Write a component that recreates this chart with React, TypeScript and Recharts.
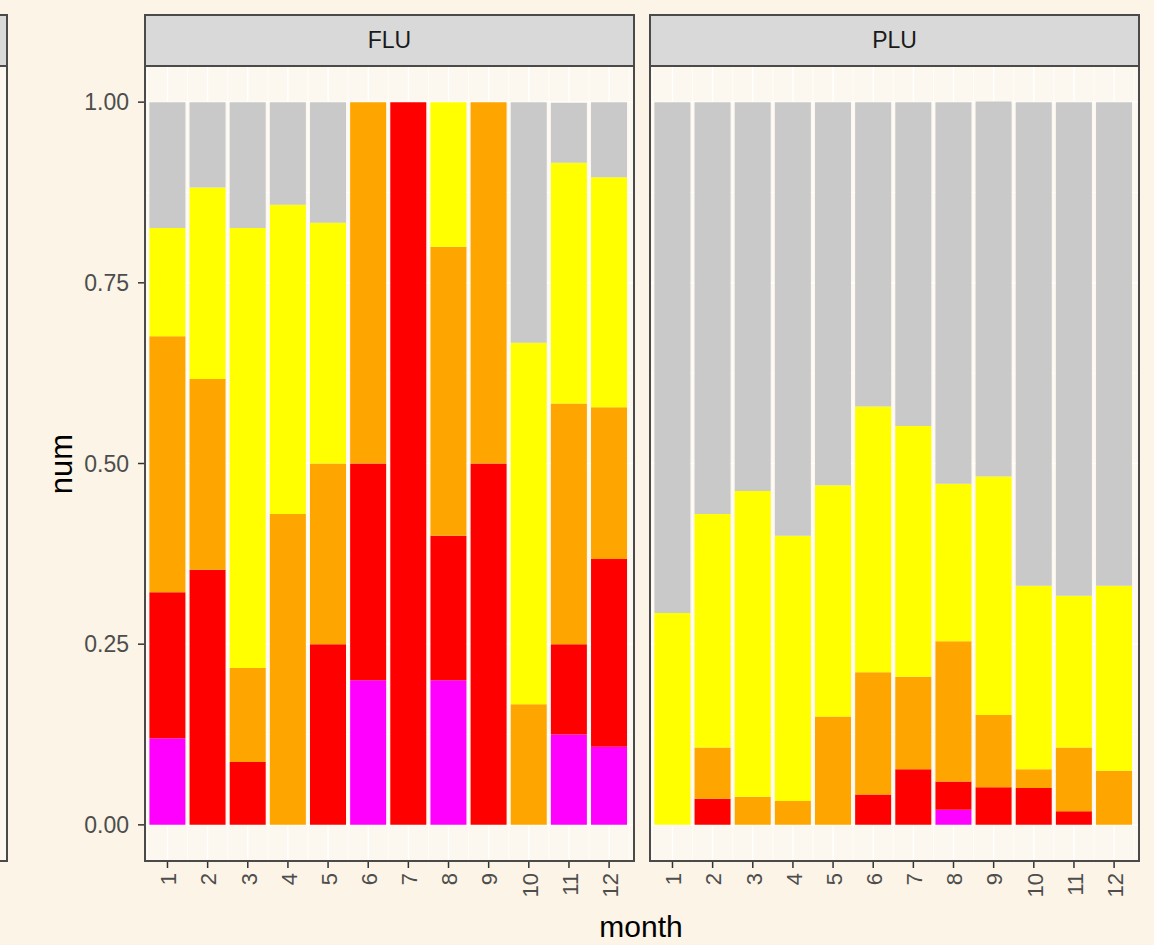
import { BarChart, Bar, XAxis, YAxis, CartesianGrid } from "recharts";

// month numbers on the x axis
const MONTHS = [1, 2, 3, 4, 5, 6, 7, 8, 9, 10, 11, 12];
const Y_TICKS = [0, 0.25, 0.5, 0.75, 1];
const Y_MINOR = [0.125, 0.375, 0.625, 0.875];
const X_MINOR = [0.5, 1.5, 2.5, 3.5, 4.5, 5.5, 6.5, 7.5, 8.5, 9.5, 10.5, 11.5, 12.5];

// FLU shares per month, stacked bottom to top
const FLU_MAGENTA = [0.12, 0, 0, 0, 0, 0.2, 0, 0.2, 0, 0, 0.125, 0.108];
const FLU_RED = [0.202, 0.353, 0.087, 0, 0.25, 0.3, 1, 0.2, 0.5, 0, 0.125, 0.26];
const FLU_ORANGE = [0.354, 0.264, 0.13, 0.43, 0.25, 0.5, 0, 0.4, 0.5, 0.167, 0.333, 0.21];
const FLU_YELLOW = [0.15, 0.265, 0.609, 0.428, 0.333, 0, 0, 0.2, 0, 0.5, 0.333, 0.318];
const FLU_GREY = [0.174, 0.118, 0.174, 0.142, 0.167, 0, 0, 0, 0, 0.333, 0.083, 0.104];

// PLU shares per month
const PLU_MAGENTA = [0, 0, 0, 0, 0, 0, 0, 0.021, 0, 0, 0, 0];
const PLU_RED = [0, 0.036, 0, 0, 0, 0.042, 0.077, 0.039, 0.052, 0.051, 0.019, 0];
const PLU_ORANGE = [0, 0.071, 0.039, 0.033, 0.15, 0.169, 0.128, 0.194, 0.1, 0.026, 0.088, 0.075];
const PLU_YELLOW = [0.293, 0.323, 0.423, 0.367, 0.32, 0.368, 0.347, 0.218, 0.33, 0.254, 0.21, 0.256];
const PLU_GREY = [0.707, 0.57, 0.538, 0.6, 0.53, 0.421, 0.448, 0.528, 0.519, 0.669, 0.683, 0.669];

const SERIES = [
    { key: "magenta", color: "#FF00FF" },
    { key: "red", color: "#FF0000" },
    { key: "orange", color: "#FFA500" },
    { key: "yellow", color: "#FFFF00" },
    { key: "grey", color: "#C9C9C9" },
];

const PAGE_BG = "#fcf4e6";
const PANEL_BG = "#fdf8ef";
const BORDER = "2px solid #4a4a4a";
const FONT = "'Liberation Sans', Arial, sans-serif";

const PANEL_TOP = 66;
const PANEL_H = 795;
const STRIP_TOP = 14;
const STRIP_H = 52;

function buildRows(m: number[], r: number[], o: number[], y: number[], g: number[]) {
    return MONTHS.map((month, i) => ({
        month,
        magenta: m[i],
        red: r[i],
        orange: o[i],
        yellow: y[i],
        grey: g[i],
    }));
}

const fluRows = buildRows(FLU_MAGENTA, FLU_RED, FLU_ORANGE, FLU_YELLOW, FLU_GREY);
const pluRows = buildRows(PLU_MAGENTA, PLU_RED, PLU_ORANGE, PLU_YELLOW, PLU_GREY);

const MonthTick = (props: any) => {
    const { x, y, payload } = props;
    return (
        <g transform={`translate(${x},${y})`}>
            <text
                x={0}
                y={0}
                transform="rotate(-90)"
                textAnchor="end"
                dy="0.4em"
                fill="#4d4d4d"
                fontSize={22}
                fontFamily={FONT}
            >
                {payload.value}
            </text>
        </g>
    );
};

interface FacetProps {
    rows: any[];
    title: string;
    left: number;
    panelLeft: number;
    panelWidth: number;
    showY: boolean;
}

function Facet({ rows, title, left, panelLeft, panelWidth, showY }: FacetProps) {
    const yWidth = panelLeft - left;
    return (
        <>
            <div style={{ position: "absolute", left, top: PANEL_TOP }}>
                <BarChart
                    width={yWidth + panelWidth}
                    height={PANEL_H + 80}
                    data={rows}
                    margin={{ top: 0, right: 0, bottom: 0, left: 0 }}
                >
                    <CartesianGrid
                        fill={PANEL_BG}
                        stroke="#ffffff"
                        strokeWidth={0.7}
                        horizontalValues={Y_MINOR}
                        verticalValues={X_MINOR}
                    />
                    <CartesianGrid
                        stroke="#ffffff"
                        strokeWidth={1.4}
                        horizontalValues={Y_TICKS}
                        verticalValues={MONTHS}
                    />
                    <XAxis
                        dataKey="month"
                        type="number"
                        domain={[0.44, 12.62]}
                        ticks={MONTHS}
                        allowDataOverflow
                        axisLine={false}
                        tickSize={7}
                        tickMargin={5}
                        tickLine={{ stroke: "#333333", strokeWidth: 1.5 }}
                        height={80}
                        interval={0}
                        tick={<MonthTick />}
                    />
                    <YAxis
                        type="number"
                        domain={[-0.05, 1.05]}
                        ticks={Y_TICKS}
                        allowDataOverflow
                        hide={!showY}
                        width={yWidth}
                        axisLine={false}
                        tickSize={7}
                        tickMargin={9}
                        tickLine={{ stroke: "#333333", strokeWidth: 1.5 }}
                        tickFormatter={(v: number) => v.toFixed(2)}
                        tick={{ fill: "#4d4d4d", fontSize: 23, fontFamily: FONT }}
                    />
                    {SERIES.map((s) => (
                        <Bar
                            key={s.key}
                            dataKey={s.key}
                            stackId="a"
                            fill={s.color}
                            barSize={36}
                            isAnimationActive={false}
                        />
                    ))}
                </BarChart>
            </div>
            <div
                style={{
                    position: "absolute",
                    left: panelLeft - 1,
                    top: PANEL_TOP - 1,
                    width: panelWidth + 2,
                    height: PANEL_H + 2,
                    border: BORDER,
                    boxSizing: "border-box",
                    pointerEvents: "none",
                }}
            />
            <div
                style={{
                    position: "absolute",
                    left: panelLeft - 1,
                    top: STRIP_TOP,
                    width: panelWidth + 2,
                    height: STRIP_H + 1,
                    border: BORDER,
                    boxSizing: "border-box",
                    background: "#d9d9d9",
                    display: "flex",
                    alignItems: "center",
                    justifyContent: "center",
                    fontFamily: FONT,
                    fontSize: 23,
                    color: "#1a1a1a",
                }}
            >
                {title}
            </div>
        </>
    );
}

export default function App() {
    return (
        <div
            style={{
                position: "fixed",
                left: 0,
                top: 0,
                width: 1154,
                height: 945,
                background: PAGE_BG,
                overflow: "hidden",
                fontFamily: FONT,
            }}
        >
            {/* edge of the facet to the left, cut off by the screenshot */}
            <div
                style={{
                    position: "absolute",
                    left: -20,
                    top: STRIP_TOP,
                    width: 28,
                    height: STRIP_H + 1,
                    border: BORDER,
                    boxSizing: "border-box",
                    background: "#d9d9d9",
                }}
            />
            <div
                style={{
                    position: "absolute",
                    left: -20,
                    top: PANEL_TOP - 1,
                    width: 28,
                    height: PANEL_H + 2,
                    border: BORDER,
                    boxSizing: "border-box",
                    background: PANEL_BG,
                }}
            />

            <Facet rows={fluRows} title="FLU" left={0} panelLeft={145} panelWidth={489} showY />
            <Facet rows={pluRows} title="PLU" left={650} panelLeft={650} panelWidth={489} showY={false} />

            <div
                style={{
                    position: "absolute",
                    left: 61,
                    top: PANEL_TOP + PANEL_H / 2,
                    transform: "translate(-50%, -50%) rotate(-90deg)",
                    fontSize: 31,
                    lineHeight: 1,
                    color: "#000000",
                    whiteSpace: "nowrap",
                }}
            >
                num
            </div>
            <div
                style={{
                    position: "absolute",
                    left: 641,
                    top: 927,
                    transform: "translate(-50%, -50%)",
                    fontSize: 30,
                    lineHeight: 1,
                    color: "#000000",
                    whiteSpace: "nowrap",
                }}
            >
                month
            </div>
        </div>
    );
}
